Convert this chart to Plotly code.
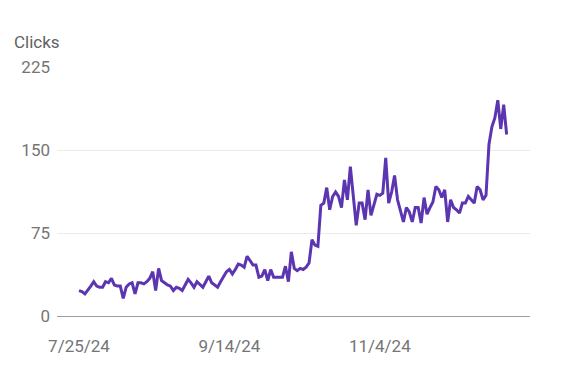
import plotly.graph_objects as go
import pandas as pd

start_date = "2024-07-25"
clicks = [23, 22, 20, 23, 27, 31, 27, 26, 26, 31, 30, 34, 28, 27, 27, 16, 26, 29, 30, 20,
          30, 30, 29, 31, 34, 40, 23, 43, 32, 30, 28, 27, 23, 26, 25, 23, 28, 33, 30, 26,
          31, 28, 26, 31, 36, 30, 28, 26, 31, 36, 40, 42, 38, 42, 47, 46, 44, 54, 50, 46,
          46, 35, 36, 42, 32, 42, 35, 35, 35, 35, 45, 31, 58, 43, 41, 43, 42, 44, 48, 69,
          64, 63, 100, 102, 116, 96, 108, 112, 108, 98, 123, 105, 135, 105, 82, 102, 102, 87, 114, 91,
          100, 110, 109, 111, 143, 102, 112, 127, 105, 96, 85, 98, 94, 85, 98, 98, 84, 107, 92, 98,
          103, 117, 114, 107, 114, 85, 105, 98, 96, 93, 102, 102, 108, 105, 102, 117, 114, 105, 109, 155,
          171, 179, 195, 169, 191, 164]
tick_dates = ["2024-07-25", "2024-09-14", "2024-11-04"]
tick_labels = ["7/25/24", "9/14/24", "11/4/24"]
y_ticks = [0, 75, 150, 225]
y_title = "Clicks"

dates = pd.date_range(start_date, periods=len(clicks), freq="D")

fig = go.Figure()
fig.add_trace(go.Scatter(x=dates, y=clicks, mode="lines",
                         line=dict(color="#5c35b0", width=3),
                         hoverinfo="x+y"))

t0 = pd.Timestamp(start_date)
fig.update_layout(
    width=574, height=387,
    margin=dict(l=57, r=44, t=67, b=71),
    paper_bgcolor="white", plot_bgcolor="white",
    showlegend=False,
    font=dict(family="Roboto", color="#757575", size=17),
    xaxis=dict(
        range=[t0 - pd.Timedelta(hours=179), t0 + pd.Timedelta(hours=3670)],
        tickvals=tick_dates, ticktext=tick_labels,
        showgrid=False, zeroline=False,
        showline=True, linecolor="#9e9e9e", linewidth=1.3,
        ticks="", ticklabelstandoff=14,
        tickfont=dict(size=17, color="#757575"),
    ),
    yaxis=dict(
        range=[0, 225], tickvals=y_ticks,
        showgrid=True, gridcolor="#ebebeb", gridwidth=1,
        zeroline=False, showline=False,
        ticks="", ticklabelstandoff=6,
        tickfont=dict(size=17, color="#757575"),
    ),
    annotations=[dict(text=y_title, xref="paper", yref="paper",
                      x=0, y=1, xshift=-45, yshift=25,
                      xanchor="left", yanchor="middle", showarrow=False,
                      font=dict(size=17, color="#616161", family="Roboto"))],
)

fig.write_html("out.html", config={"displayModeBar": False},
               post_script="document.body.style.margin='0';document.body.style.overflow='hidden';")
